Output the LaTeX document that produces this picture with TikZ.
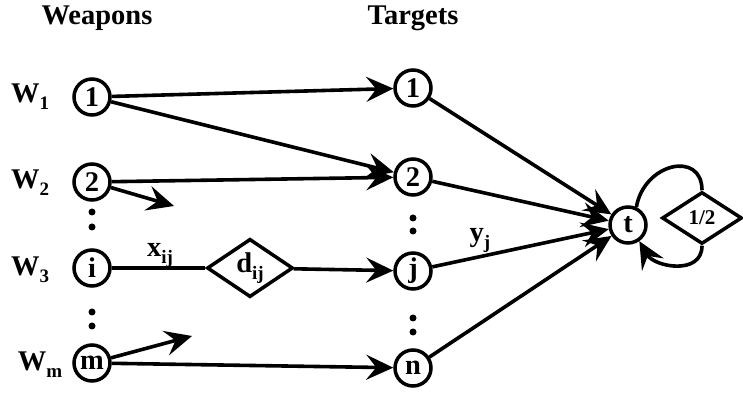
\documentclass[tikz,border=0pt]{standalone}
\usepackage{fontspec}
\setmainfont{Liberation Serif}
\usetikzlibrary{arrows.meta,shapes.geometric}
\newcommand{\mysub}[1]{{\fontsize{19}{19}\selectfont\raisebox{-7pt}{#1}}}
\begin{document}
\begin{tikzpicture}[x=1pt,y=1pt,
  every node/.style={font=\fontsize{28.5}{30}\selectfont\bfseries},
  vert/.style={circle,draw,line width=3.5pt,minimum size=36pt,inner sep=0pt},
  gate/.style={diamond,draw,line width=3.5pt,inner sep=0pt},
  line/.style={line width=3.6pt},
  arr/.style={line width=3.6pt,-{Stealth[length=27pt,width=25pt,inset=10pt]}},
  dotmark/.style={circle,fill,minimum size=7pt,inner sep=0pt}]
\useasboundingbox (0,0) rectangle (743,398);
% headers
\node (hw) at (97,380) {Weapons};
\node (ht) at (413,380) {Targets};
% weapons
\node[vert] (w1) at (92,301) {1};
\node[vert] (w2) at (92,216) {2};
\node[vert] (wi) at (92,130) {i};
\node[vert] (wm) at (92,35) {m};
\node (lw1) at (30,301) {W\mysub{1}};
\node (lw2) at (30,215) {W\mysub{2}};
\node (lw3) at (30,128) {W\mysub{3}};
\node (lwm) at (40,33) {W\mysub{m}};
% targets
\node[vert] (t1) at (413,310) {1};
\node[vert] (t2) at (413,221) {2};
\node[vert] (tj) at (413,127) {j};
\node[vert] (tn) at (413,30) {n};
% sink
\node[vert] (t) at (628,173) {t};
\node[gate,minimum width=80pt,minimum height=52pt,font=\fontsize{21}{22}\selectfont\bfseries] (half) at (702,180) {1/2};
\node[gate,minimum width=86pt,minimum height=51pt] (dij) at (250,130) {d\mysub{ij}};
% dots
\node[dotmark] (d1) at (92,186) {};
\node[dotmark] (d2) at (92,171) {};
\node[dotmark] (d3) at (92,86) {};
\node[dotmark] (d4) at (92,72) {};
\node[dotmark] (d5) at (413,180) {};
\node[dotmark] (d6) at (413,167) {};
\node[dotmark] (d7) at (413,80) {};
\node[dotmark] (d8) at (413,66) {};
% labels
\node (xij) at (160,143) {x\mysub{ij}};
\node (yj) at (480,158) {y\mysub{j}};
% free ends
\coordinate (e2) at (174,192);
\coordinate (em) at (192,62);
% edges
\draw[arr] (w1) -- (t1);
\draw[arr] (w1) -- (t2);
\draw[arr] (w2) -- (t2);
\draw[arr] (w2) -- (e2);
\draw[line] (wi) -- (dij);
\draw[arr] (dij) -- (tj);
\draw[arr] (wm) -- (em);
\draw[arr] (wm) -- (tn);
\draw[arr] (t1) -- (t);
\draw[arr] (t2) -- (t);
\draw[arr] (tj) -- (t);
\draw[arr] (tn) -- (t);
% loop
\draw[line] (t.65) .. controls +(80:45) and +(90:40) .. (half.north);
\draw[arr] (half.south) .. controls +(-90:30) and +(-60:30) .. (t.-55);
\end{tikzpicture}
\end{document}
